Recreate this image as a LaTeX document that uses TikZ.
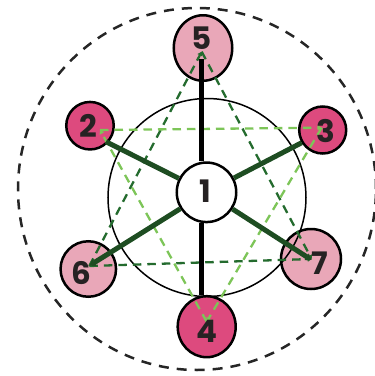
\documentclass[tikz,border=0pt]{standalone}
\usepackage{fontspec}
\setmainfont{Poppins}
\usetikzlibrary{arrows.meta,shapes.geometric,calc}
\definecolor{pinkdark}{HTML}{DD4A7E}
\definecolor{pinklight}{HTML}{E9A7B8}
\definecolor{greendark}{HTML}{1E4D22}
\definecolor{greendash}{HTML}{246B2E}
\definecolor{greenlight}{HTML}{7DC558}
\definecolor{txt}{HTML}{262223}
\begin{document}
\begin{tikzpicture}[x=1pt,y=-1pt,
  ball/.style={circle,draw=black,line width=2.5pt,inner sep=0pt},
  oval/.style={ellipse,draw=black,line width=2.5pt,inner sep=0pt},
  num/.style={font=\fontsize{31}{31}\selectfont\bfseries, text=txt, inner sep=0pt},
  spine/.style={line width=5pt, black},
  spoke/.style={line width=5pt, greendark},
  dkdash/.style={line width=2.3pt, greendash, dash pattern=on 8.5pt off 6pt},
  ltdash/.style={line width=2.3pt, greenlight, dash pattern=on 8.5pt off 6pt},
  smalltip/.style={-{Triangle[length=4pt,width=5pt]}},
  spoketip/.style={-{Triangle[length=6pt,width=7.5pt]}}
]
\useasboundingbox (0,0) rectangle (375,376);
\clip (0,0) rectangle (375,376);
% outer dashed ring
\draw[line width=2.5pt, black!85, dash pattern=on 10pt off 8pt] (197,189) ellipse [x radius=179pt, y radius=181pt];
% outer nodes
\node[oval, fill=pinklight, minimum width=58.5pt, minimum height=65.5pt] (c5) at (203,48) {};
\node[ball, fill=pinkdark, minimum size=47.5pt] (c2) at (90,125.7) {};
\node[ball, fill=pinkdark, minimum size=47pt] (c3) at (322.7,130) {};
\node[ball, fill=pinklight, minimum size=55.5pt] (c6) at (88.3,269) {};
\node[ball, fill=pinklight, minimum size=60pt] (c7) at (311,259) {};
\node[oval, fill=pinkdark, minimum width=58pt, minimum height=61pt] (c4) at (206.7,326.7) {};
% inner ring
\draw[line width=1.5pt] (207,197.5) circle [radius=99pt];
% centre node
\node[ball, fill=white, minimum size=59.5pt] (n1) at (206.5,192.3) {};
% connector end points
\coordinate (s5) at (201.7,59.3);
\coordinate (e2) at (106,141.7);
\coordinate (e3) at (301.7,142.7);
\coordinate (e6) at (89.3,265.7);
\coordinate (e7) at (311.7,260);
\coordinate (d5) at (201.7,51.7);
\coordinate (d6) at (89.3,266);
\coordinate (d7) at (311.7,259);
\coordinate (l2) at (100,130);
\coordinate (l3) at (321.7,127.7);
\coordinate (l4) at (206.7,321.7);
% dashed triangles
\draw[dkdash, smalltip] (d6) -- (d5);
\draw[dkdash, smalltip] (d5) -- (d7);
\draw[dkdash, smalltip] (d6) -- (d7);
\draw[ltdash, smalltip] (l2) -- (l3);
\draw[ltdash, smalltip] (l3) -- (l4);
\draw[ltdash, smalltip] (l4) -- (l2);
% solid connectors
\draw[spine] (n1.north -| s5) -- (s5);
\draw[spine] (n1.south -| s5) -- (c4.north -| s5);
\draw[spoke] (n1) -- (e2);
\draw[spoke] (n1) -- (e3);
\draw[spoke, spoketip] (n1) -- (e6);
\draw[spoke, spoketip] (n1) -- (e7);
% labels
\node[num] (t1) at (205.7,190.7) {1};
\node[num] (t2) at (88,126) {2};
\node[num] (t3) at (326,130.7) {3};
\node[num] (t4) at (206.7,331.7) {4};
\node[num] (t5) at (201.7,38) {5};
\node[num] (t6) at (81.7,272.7) {6};
\node[num] (t7) at (319.3,263.3) {7};
\end{tikzpicture}
\end{document}
